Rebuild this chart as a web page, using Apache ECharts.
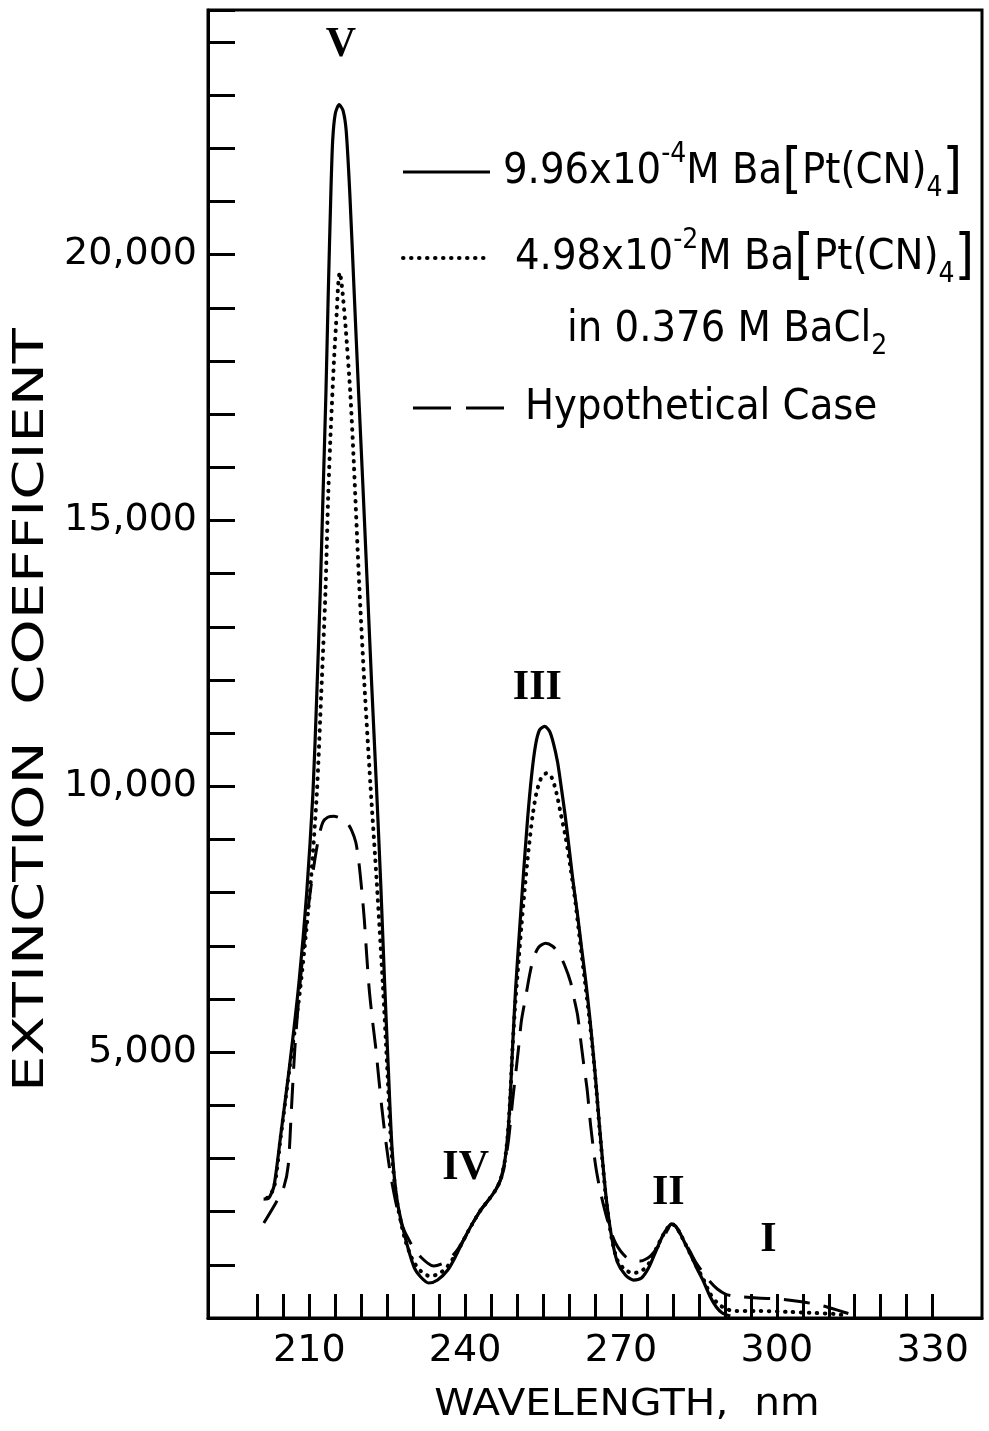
<!DOCTYPE html>
<html>
<head>
<meta charset="utf-8">
<script src="https://cdn.jsdelivr.net/npm/echarts@6/dist/echarts.min.js"></script>
<style>
  html, body { margin: 0; padding: 0; background: #fff; }
  #chart { width: 989px; height: 1431px; }
</style>
</head>
<body>
<div id="chart"></div>
<script>
// axis ticks / labels
const xTicks = [200, 205, 210, 215, 220, 225, 230, 235, 240, 245, 250, 255, 260, 265, 270, 275, 280, 285, 290, 295, 300, 305, 310, 315, 320, 325, 330];
const xLabels = [210, 240, 270, 300, 330];
const yLabels = [5000, 10000, 15000, 20000];

// 9.96e-4 M Ba[Pt(CN)4]  (solid)
const solidNm  = [201.2, 202.2, 203.2, 204.5, 206.15, 208.0, 209.5, 210.7, 211.45, 212.1, 212.65, 213.2, 213.65, 214.15, 214.5, 215.0, 215.75, 216.5, 217.1, 217.8, 218.65, 219.5, 220.3, 221.15, 222.0, 222.9, 223.75, 224.5, 225.2, 225.95, 226.9, 228.25, 230.15, 231.45, 233.0, 234.7, 236.65, 238.2, 239.7, 241.25, 243.0, 244.5, 245.85, 246.8, 247.6, 248.2, 248.65, 249.15, 249.7, 250.5, 251.25, 252.0, 252.8, 253.55, 254.3, 255.3, 256.25, 257.0, 257.8, 258.45, 259.25, 260.0, 260.75, 261.6, 262.4, 263.2, 263.95, 264.7, 265.3, 265.85, 266.45, 267.2, 268.2, 269.3, 270.85, 272.4, 273.95, 275.3, 276.65, 278.0, 278.95, 279.7, 280.5, 281.45, 282.4, 283.35, 284.5, 285.85, 287.2, 288.35, 289.5, 291.05];
const solidVal = [2237, 2256, 2481, 3440, 4699, 6297, 7989, 9868, 11748, 13628, 15508, 17387, 19267, 21147, 22143, 22650, 22820, 22707, 22331, 21147, 19267, 17387, 15695, 13816, 11936, 10056, 8177, 6297, 4718, 3158, 2218, 1598, 959, 771, 658, 714, 902, 1165, 1466, 1748, 2030, 2218, 2406, 2594, 2932, 3440, 4098, 5132, 6165, 7331, 8383, 9361, 10207, 10771, 11053, 11128, 11034, 10808, 10451, 10019, 9455, 8853, 8233, 7613, 6974, 6353, 5695, 4944, 4286, 3628, 2970, 2218, 1523, 1053, 808, 714, 752, 940, 1241, 1541, 1692, 1767, 1729, 1579, 1391, 1203, 959, 695, 395, 207, 94, 38];

// 4.98e-2 M Ba[Pt(CN)4] in 0.376 M BaCl2  (dotted)
const dotNm  = [201.85, 203.2, 204.5, 206.15, 208.15, 210.1, 211.45, 212.3, 213.1, 213.65, 214.15, 214.75, 215.3, 215.55, 215.85, 216.15, 216.55, 217.0, 217.9, 218.55, 219.6, 220.6, 221.75, 223.0, 224.15, 225.0, 225.85, 226.9, 228.35, 229.9, 231.45, 233.15, 234.9, 236.65, 238.2, 239.7, 241.25, 243.0, 244.5, 245.85, 246.8, 247.6, 248.2, 248.65, 249.15, 249.7, 250.3, 250.85, 251.45, 252.2, 253.0, 253.75, 254.7, 255.65, 256.65, 257.6, 258.35, 259.35, 260.3, 261.25, 262.2, 263.2, 263.95, 264.7, 265.3, 265.85, 266.45, 267.2, 268.2, 269.3, 270.85, 272.4, 273.95, 275.3, 276.65, 278.0, 278.95, 279.7, 280.5, 281.45, 282.4, 283.35, 284.5, 285.85, 287.2, 288.75, 290.3, 292.0, 296.85, 302.6, 307.4, 311.25, 313.75];
const dotVal = [2256, 2444, 3402, 4662, 6109, 7989, 9868, 11748, 13628, 15508, 16748, 18008, 18947, 19417, 19662, 19511, 19135, 18628, 17387, 16128, 13816, 11936, 10056, 8177, 6297, 4718, 3120, 2180, 1504, 1090, 883, 789, 827, 977, 1203, 1466, 1748, 2030, 2218, 2406, 2594, 2932, 3440, 4098, 5132, 5977, 6729, 7387, 8045, 8797, 9455, 9887, 10169, 10244, 10169, 9868, 9511, 9041, 8459, 7801, 7011, 6222, 5602, 4906, 4248, 3590, 2932, 2180, 1504, 1090, 902, 846, 883, 1015, 1278, 1541, 1692, 1767, 1729, 1579, 1391, 1203, 977, 733, 451, 263, 169, 132, 132, 113, 94, 75, 38];

// Hypothetical case  (dashed)
const dashNm  = [201.25, 203.55, 205.1, 205.95, 206.55, 207.2, 208.1, 209.05, 210.1, 211.05, 211.85, 212.6, 213.55, 214.7, 216.05, 217.2, 218.15, 218.95, 219.5, 220.1, 220.6, 221.05, 221.55, 222.2, 222.8, 223.35, 223.95, 224.7, 225.65, 226.65, 227.6, 229.5, 231.45, 233.95, 236.25, 238.2, 239.7, 241.25, 243.0, 244.5, 245.85, 246.8, 247.6, 248.35, 249.15, 249.7, 250.3, 250.85, 251.65, 252.4, 253.15, 254.15, 255.5, 256.85, 258.0, 259.15, 260.3, 261.05, 261.65, 262.2, 262.8, 263.5, 264.15, 265.1, 266.05, 267.4, 268.95, 271.2, 273.75, 275.65, 277.6, 278.95, 279.7, 280.5, 281.45, 282.4, 283.35, 284.5, 285.85, 287.2, 288.55, 290.1, 291.65, 296.25, 300.65, 305.1, 308.95, 312.8, 315.5];
const dashVal = [1786, 2162, 2462, 2876, 3910, 5038, 6165, 7105, 7951, 8609, 9060, 9323, 9417, 9436, 9399, 9323, 9173, 8947, 8609, 8045, 7481, 6823, 6165, 5564, 5075, 4530, 3966, 3346, 2688, 2180, 1805, 1410, 1147, 977, 1053, 1241, 1466, 1748, 2030, 2218, 2406, 2594, 2876, 3346, 4098, 4568, 5094, 5602, 6034, 6447, 6767, 6974, 7049, 6992, 6861, 6635, 6316, 5977, 5695, 5263, 4793, 4286, 3628, 2876, 2368, 1842, 1410, 1128, 1071, 1165, 1410, 1654, 1767, 1729, 1579, 1410, 1241, 1034, 846, 677, 545, 451, 414, 376, 357, 301, 226, 113, 38];

// band labels
const peakNames = ['V', 'III', 'IV', 'II', 'I'];
const peakNm    = [216.1, 253.9, 240.1, 279.1, 298.4];
const peakVal   = [23930, 11840, 2820, 2350, 1470];

const pairs = (xs, ys) => xs.map((x, i) => [x, ys[i]]);

const chart = echarts.init(document.getElementById('chart'));

const lineSeries = (name, xs, ys, lineStyle) => ({
  name,
  type: 'line',
  data: pairs(xs, ys),
  smooth: 0.25,
  showSymbol: false,
  symbol: 'none',
  silent: true,
  lineStyle: Object.assign({ color: '#000', width: 3 }, lineStyle)
});

const legendFont = '"DejaVu Sans Condensed", "DejaVu Sans", sans-serif';
const legendRich = {
  n:   { fontFamily: legendFont, fontSize: 43, lineHeight: 62, color: '#000' },
  sup: { fontFamily: legendFont, fontSize: 28, lineHeight: 24, verticalAlign: 'top', color: '#000' },
  sub: { fontFamily: legendFont, fontSize: 28, lineHeight: 24, verticalAlign: 'bottom', color: '#000' },
  br:  { fontFamily: legendFont, fontSize: 56, fontWeight: 300, lineHeight: 62, color: '#000' }
};

const option = {
  animation: false,
  backgroundColor: '#fff',
  grid: {
    left: 208, right: 7, top: 10, bottom: 113,
    show: true, borderColor: '#000', borderWidth: 3, backgroundColor: 'transparent'
  },
  xAxis: {
    type: 'value',
    min: 190.5,
    max: 339.5,
    axisLine: { show: true, lineStyle: { color: '#000', width: 3 } },
    axisTick: { show: true, inside: true, length: 24, customValues: xTicks, lineStyle: { color: '#000', width: 3 } },
    axisLabel: {
      customValues: xLabels,
      margin: 14,
      color: '#000',
      fontFamily: 'DejaVu Sans',
      fontSize: 38,
      formatter: v => (xLabels.indexOf(v) >= 0 ? String(v) : '')
    },
    splitLine: { show: false }
  },
  yAxis: {
    type: 'value',
    min: 0,
    max: 24600,
    interval: 1000,
    axisLine: { show: true, lineStyle: { color: '#000', width: 3 } },
    axisTick: { show: true, inside: true, length: 27, lineStyle: { color: '#000', width: 3 } },
    axisLabel: {
      margin: 11,
      color: '#000',
      fontFamily: 'DejaVu Sans',
      fontSize: 38,
      formatter: v => (yLabels.indexOf(v) >= 0 ? v.toLocaleString('en-US') : '')
    },
    splitLine: { show: false }
  },
  series: [
    lineSeries('9.96x10-4 M', solidNm, solidVal, { type: 'solid', width: 3.2 }),
    lineSeries('4.98x10-2 M', dotNm, dotVal, { type: [0.5, 7.5], cap: 'round', width: 4 }),
    lineSeries('Hypothetical Case', dashNm, dashVal, { type: [26, 14], width: 3 }),
    {
      name: 'bands',
      type: 'scatter',
      silent: true,
      symbolSize: 1,
      itemStyle: { color: 'rgba(0,0,0,0)' },
      data: peakNames.map((n, i) => [peakNm[i], peakVal[i], n]),
      label: {
        show: true,
        position: 'inside',
        formatter: p => p.value[2],
        fontFamily: '"Liberation Serif", "DejaVu Serif", serif',
        fontSize: 42,
        fontWeight: 'bold',
        color: '#000',
        opacity: 1,
        textBorderWidth: 0
      }
    }
  ],
  graphic: [
    // legend samples
    { type: 'line', shape: { x1: 403, y1: 172, x2: 490, y2: 172 }, style: { stroke: '#000', lineWidth: 3 } },
    { type: 'line', shape: { x1: 403, y1: 258, x2: 488, y2: 258 }, style: { stroke: '#000', lineWidth: 4, lineDash: [0.5, 7.5], lineCap: 'round' } },
    { type: 'line', shape: { x1: 413, y1: 408, x2: 510, y2: 408 }, style: { stroke: '#000', lineWidth: 3, lineDash: [38, 15] } },
    {
      type: 'text', x: 503, y: 172,
      style: { text: '{n|9.96x10}{sup|-4}{n|M Ba}{br|[}{n|Pt(CN)}{sub|4}{br|]}', rich: legendRich, verticalAlign: 'middle', align: 'left' }
    },
    {
      type: 'text', x: 515, y: 258,
      style: { text: '{n|4.98x10}{sup|-2}{n|M Ba}{br|[}{n|Pt(CN)}{sub|4}{br|]}', rich: legendRich, verticalAlign: 'middle', align: 'left' }
    },
    {
      type: 'text', x: 567, y: 330,
      style: { text: '{n|in 0.376 M BaCl}{sub|2}', rich: legendRich, verticalAlign: 'middle', align: 'left' }
    },
    {
      type: 'text', x: 525, y: 408,
      style: { text: '{n|Hypothetical Case}', rich: legendRich, verticalAlign: 'middle', align: 'left' }
    },
    // axis titles
    {
      type: 'text', x: 32, y: 710, rotation: Math.PI / 2, scaleX: 1.37,
      style: { text: 'EXTINCTION  COEFFICIENT', fontFamily: 'DejaVu Sans', fontSize: 42, fill: '#000', align: 'center', verticalAlign: 'middle' }
    },
    {
      type: 'text', x: 627, y: 1405, scaleX: 1.1,
      style: { text: 'WAVELENGTH,  nm', fontFamily: 'DejaVu Sans', fontSize: 37, fill: '#000', align: 'center', verticalAlign: 'middle' }
    }
  ]
};

chart.setOption(option);
</script>
</body>
</html>
